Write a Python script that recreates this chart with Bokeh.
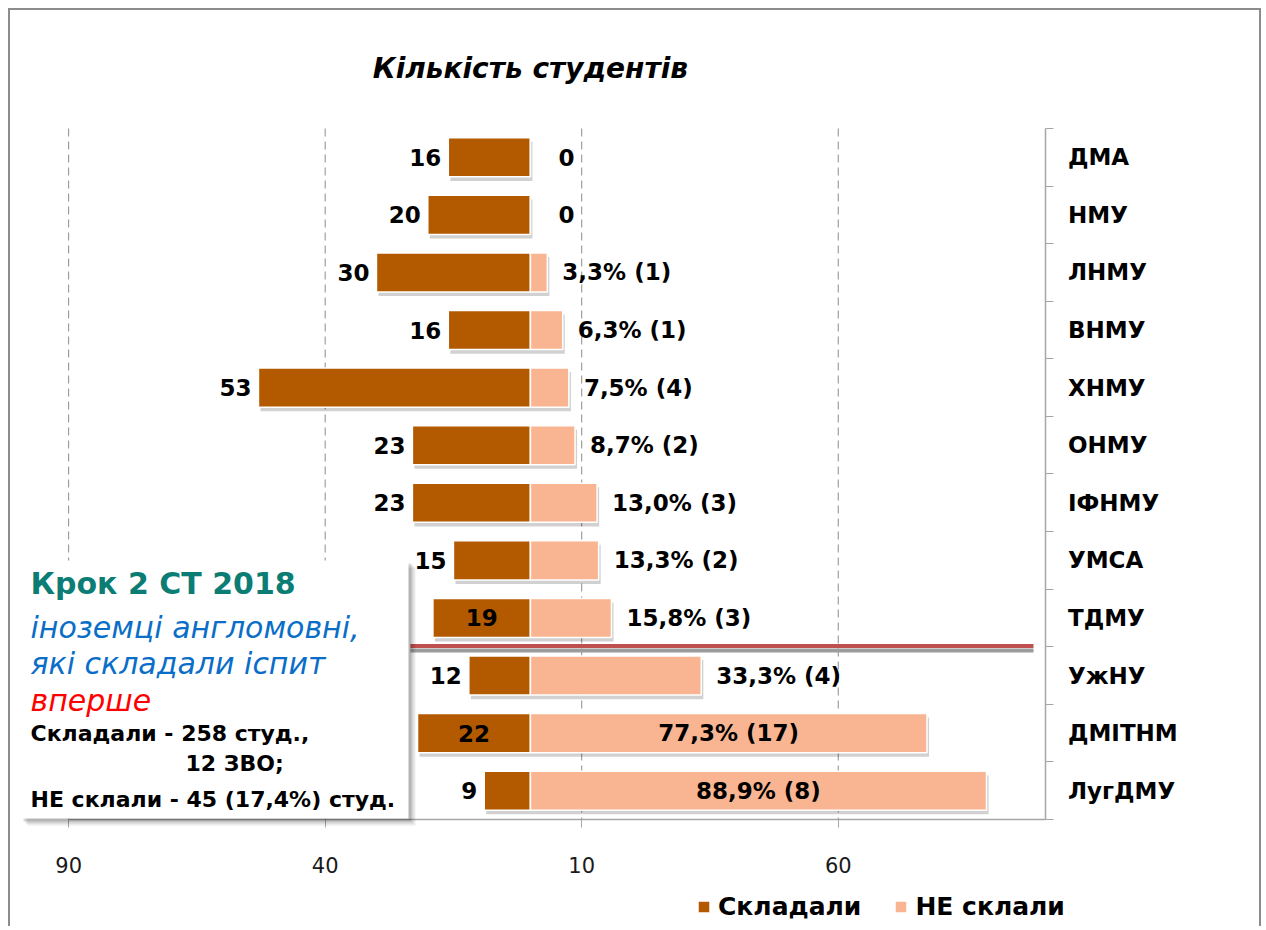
from bokeh.plotting import figure
from bokeh.models import (Range1d, FixedTicker, BoxAnnotation, Label, Legend,
                          LegendItem, ColumnDataSource, LinearAxis)
from bokeh.core.properties import value
from bokeh.embed import file_html
from bokeh.resources import INLINE

# ---------------- data ----------------
universities = ["ДМА", "НМУ", "ЛНМУ", "ВНМУ", "ХНМУ", "ОНМУ", "ІФНМУ",
                "УМСА", "ТДМУ", "УжНУ", "ДМІТНМ", "ЛугДМУ"]
passed = [16, 20, 30, 16, 53, 23, 23, 15, 19, 12, 22, 9]
failed_n = [0, 0, 1, 1, 4, 2, 3, 2, 3, 4, 17, 8]
failed_pct = [0, 0, 3.3, 6.3, 7.5, 8.7, 13.0, 13.3, 15.8, 33.3, 77.3, 88.9]
passed_label_inside = [False, False, False, False, False, False, False, False,
                       True, False, True, False]
failed_label_inside = [False, False, False, False, False, False, False, False,
                       False, False, True, True]
x_ticks = [-90, -40, 10, 60]
x_tick_labels = ["90", "40", "10", "60"]
x_axis_end = 100.3
series_names = ["Складали", "НЕ склали"]
title_text = "Кількість студентів"
box_lines = ["Крок 2 СТ 2018", "іноземці англомовні,", "які складали іспит",
             "вперше", "Складали - 258 студ.,", "12 ЗВО;",
             "НЕ склали - 45 (17,4%) студ."]

BROWN = "#b35900"
SALMON = "#f9b591"
FONT = "DejaVu Sans"

# ---------------- geometry (page pixels) ----------------
W, H = 1253, 918
ORIG = 10            # canvas origin on the page (8px margin + 2px border)
PX0, SX = 529.9, 5.1307      # page x of value 0, px per unit
PY0, SY = 128.0, 57.583      # page y of top of first row, px per row
N = len(universities)


def px2x(px):
    return (px - PX0) / SX


def py2y(py):
    return (py - PY0) / SY - 0.5


idx = list(range(N))

p = figure(width=W, height=H,
           x_range=Range1d(px2x(ORIG), px2x(ORIG + W)),
           y_range=Range1d(py2y(ORIG + H), py2y(ORIG)),
           output_backend="svg", toolbar_location=None,
           x_axis_location=None, y_axis_location=None,
           min_border=0, min_border_left=0, min_border_right=0,
           min_border_top=0, min_border_bottom=0,
           background_fill_color="white", border_fill_color="white",
           styles={"margin-left": "8px", "margin-top": "8px",
                   "border-top": "2px solid #8c8c8c",
                   "border-left": "2px solid #8c8c8c",
                   "border-right": "2px solid #8c8c8c"})
p.outline_line_color = None
p.xgrid.visible = False
p.ygrid.visible = False

# dashed vertical grid lines over the plot area
p.segment(x0=x_ticks, x1=x_ticks, y0=[-0.5] * len(x_ticks),
          y1=[N - 0.5] * len(x_ticks), line_color="#8c8c8c", line_width=1,
          line_dash="8 5")

# bottom axis
xa = LinearAxis(ticker=FixedTicker(ticks=x_ticks), fixed_location=N - 0.5,
                bounds=(x_ticks[0], x_axis_end))
xa.major_label_overrides = dict(zip(x_ticks, x_tick_labels))
xa.axis_line_color = "#a6a6a6"
xa.axis_line_width = 1.5
xa.major_tick_line_color = "#a6a6a6"
xa.major_tick_out = 8
xa.major_tick_in = 0
xa.minor_tick_out = 0
xa.minor_tick_in = 0
xa.major_label_text_font = FONT
xa.major_label_text_font_size = "21px"
xa.major_label_text_color = "#1a1a1a"
xa.major_label_standoff = 30
p.add_layout(xa, "below")

# right category axis
ya = LinearAxis(ticker=FixedTicker(ticks=idx,
                                   minor_ticks=[i - 0.5 for i in range(N + 1)]),
                fixed_location=x_axis_end, bounds=(-0.5, N - 0.5))
ya.major_label_overrides = {i: u for i, u in enumerate(universities)}
ya.axis_line_color = "#a6a6a6"
ya.axis_line_width = 1.5
ya.major_tick_out = 0
ya.major_tick_in = 0
ya.minor_tick_out = 8
ya.minor_tick_in = 0
ya.minor_tick_line_color = "#a6a6a6"
ya.major_label_text_font = FONT
ya.major_label_text_font_style = "bold"
ya.major_label_text_font_size = "23px"
ya.major_label_text_color = "black"
ya.major_label_standoff = 15
p.add_layout(ya, "right")

# bar shadows
sh_dx = 0.4
sh_dy = 0.07
src_sh = ColumnDataSource(dict(
    y=[i + sh_dy for i in idx],
    left=[-v + sh_dx for v in passed],
    right=[v + sh_dx for v in failed_pct]))
p.hbar(y="y", left="left", right="right", height=0.68, source=src_sh,
       fill_color="black", fill_alpha=0.18, line_color=None)

# bars
src = ColumnDataSource(dict(
    y=idx, neg=[-v for v in passed], zero=[0] * N, pct=failed_pct))
r1 = p.hbar(y="y", left="neg", right="zero", height=0.68, source=src,
            fill_color=BROWN, line_color="white", line_width=1.5)
r2 = p.hbar(y="y", left="zero", right="pct", height=0.68, source=src,
            fill_color=SALMON, line_color="white", line_width=1.5)

# labels for passed
lx, lt, la, lo = [], [], [], []
for v, inside in zip(passed, passed_label_inside):
    lt.append(str(v))
    if inside:
        lx.append(-v / 2); la.append("center"); lo.append(0)
    else:
        lx.append(-v); la.append("right"); lo.append(-7)
src_l = ColumnDataSource(dict(x=lx, y=idx, t=lt, a=la, o=lo))
p.text(x="x", y="y", text="t", text_align="a", x_offset="o", source=src_l,
       text_baseline="middle", text_font=value(FONT), text_font_style="bold",
       text_font_size="23px", text_color="black")

# labels for failed
rx, rt, ra, ro = [], [], [], []
for v, n, inside in zip(failed_pct, failed_n, failed_label_inside):
    if v == 0:
        rt.append("0")
    else:
        rt.append(("%.1f" % v).replace(".", ",") + "% (" + str(n) + ")")
    if inside:
        rx.append(v / 2); ra.append("center"); ro.append(0)
    else:
        rx.append(v); ra.append("left"); ro.append(15 if v > 0 else 28)
src_r = ColumnDataSource(dict(x=rx, y=idx, t=rt, a=ra, o=ro))
p.text(x="x", y="y", text="t", text_align="a", x_offset="o", source=src_r,
       text_baseline="middle", text_font=value(FONT), text_font_style="bold",
       text_font_size="23px", text_color="black")

# separator line between ТДМУ and УжНУ
p.line(x=[px2x(410), px2x(1033)], y=[py2y(650)] * 2,
       line_color="#9c9c9c", line_width=4)
p.line(x=[px2x(410), px2x(1033)], y=[py2y(645.5)] * 2,
       line_color="#c0504d", line_width=4)

# title
p.add_layout(Label(x=0, y=py2y(68), text=title_text, text_align="center",
                   text_baseline="middle", text_font=FONT,
                   text_font_style="bold italic", text_font_size="28px",
                   text_color="black"))

# text box with shadow
for off, a in [(7, 0.08), (5, 0.10), (3, 0.14)]:
    p.add_layout(BoxAnnotation(left=px2x(20 + off), right=px2x(408 + off),
                               top=py2y(560 + off), bottom=py2y(818 + off),
                               fill_color="black", fill_alpha=a,
                               line_color=None))
p.add_layout(BoxAnnotation(left=px2x(20), right=px2x(408), top=py2y(560),
                           bottom=py2y(818), fill_color="white", fill_alpha=1,
                           line_color=None))

box_style = [
    (30, 583, "#0b7d74", "bold", "30px"),
    (30, 627, "#0a6ec8", "italic", "30px"),
    (30, 663, "#0a6ec8", "italic", "30px"),
    (30, 700, "#ff0000", "italic", "30px"),
    (30, 733, "black", "bold", "22px"),
    (185, 763, "black", "bold", "22px"),
    (30, 799, "black", "bold", "22px"),
]
for txt, (bx, by, col, sty, sz) in zip(box_lines, box_style):
    p.add_layout(Label(x=px2x(bx), y=py2y(by), text=txt, text_align="left",
                       text_baseline="middle", text_font=FONT,
                       text_font_style=sty, text_font_size=sz,
                       text_color=col))

# legend
legend = Legend(items=[LegendItem(label=series_names[0], renderers=[r1]),
                       LegendItem(label=series_names[1], renderers=[r2])],
                orientation="horizontal", location=(686, 7),
                border_line_color=None, background_fill_alpha=0,
                glyph_width=15, glyph_height=15, label_standoff=7,
                spacing=32, padding=0, margin=0,
                label_text_font=FONT, label_text_font_style="bold",
                label_text_font_size="25px", label_text_color="black")
p.add_layout(legend, "center")

open("out.html", "w").write(file_html(p, INLINE))
